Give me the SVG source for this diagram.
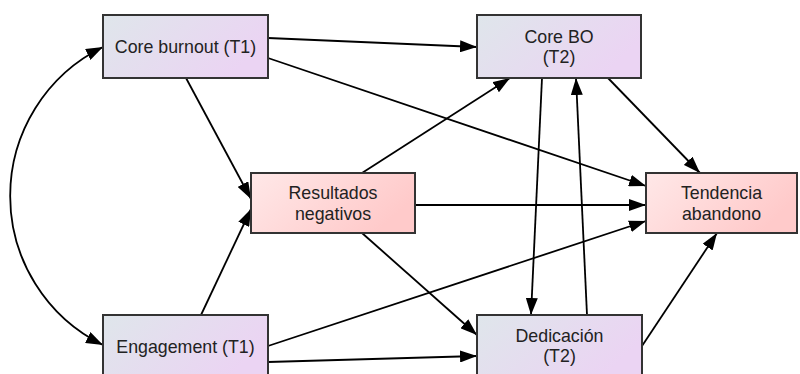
<svg xmlns="http://www.w3.org/2000/svg" width="800" height="374" viewBox="0 0 800 374">
<defs>
<linearGradient id="gLav" x1="0" y1="0" x2="1" y2="0.4">
<stop offset="0" stop-color="#dfe6eb"/>
<stop offset="1" stop-color="#ebd4f3"/>
</linearGradient>
<linearGradient id="gPink" x1="0" y1="0" x2="1" y2="0.4">
<stop offset="0" stop-color="#ffe8e8"/>
<stop offset="1" stop-color="#ffcaca"/>
</linearGradient>
<marker id="arr" markerUnits="userSpaceOnUse" markerWidth="17" markerHeight="12" viewBox="0 0 17 12" refX="17" refY="6" orient="auto-start-reverse">
<path d="M0,0 L17,6 L0,12 z" fill="#000"/>
</marker>
</defs>
<style>
.box{stroke:#333;stroke-width:2}
.lav{fill:url(#gLav)}
.pink{fill:url(#gPink)}
.lbl{font-family:"Liberation Sans",Arial,sans-serif;font-size:17.8px;fill:#222;text-anchor:middle}
.edge{fill:none;stroke:#000;stroke-width:1.8;marker-end:url(#arr)}
</style>
<rect width="800" height="374" fill="#fff"/>
<g id="connectors">
<path class="edge" d="M268,38 L477,47"/>
<path class="edge" d="M268,58 L646,186"/>
<path class="edge" d="M186,78 L251,199"/>
<path class="edge" d="M201,315 L251,209"/>
<path class="edge" d="M362,173 L510,78"/>
<path class="edge" d="M415,205 L646,205"/>
<path class="edge" d="M362,233 L477,335"/>
<path class="edge" d="M268,346 L646,221"/>
<path class="edge" d="M268,362 L477,356"/>
<path class="edge" d="M542,78 L531,315"/>
<path class="edge" d="M587,315 L576,78"/>
<path class="edge" d="M608,78 L700,173"/>
<path class="edge" d="M642,346 L717,233"/>
<path class="edge" style="marker-start:url(#arr)" d="M103,47 A166,166 0 0 0 103,345"/>
</g>
<g id="core-burnout-t1">
<rect class="box lav" x="103" y="15" width="165" height="63"/>
<text class="lbl" x="185.5" y="53">Core burnout (T1)</text>
</g>
<g id="core-bo-t2">
<rect class="box lav" x="477" y="15" width="164" height="63"/>
<text class="lbl" x="559" y="43">Core BO</text>
<text class="lbl" x="559" y="63">(T2)</text>
</g>
<g id="resultados-negativos">
<rect class="box pink" x="251" y="173" width="164" height="60"/>
<text class="lbl" x="333" y="199">Resultados</text>
<text class="lbl" x="333" y="219.5">negativos</text>
</g>
<g id="tendencia-abandono">
<rect class="box pink" x="646" y="173" width="151" height="60"/>
<text class="lbl" x="721.5" y="199">Tendencia</text>
<text class="lbl" x="721.5" y="219.5">abandono</text>
</g>
<g id="engagement-t1">
<rect class="box lav" x="103" y="315" width="165" height="63"/>
<text class="lbl" x="185.5" y="353">Engagement (T1)</text>
</g>
<g id="dedicacion-t2">
<rect class="box lav" x="477" y="315" width="165" height="63"/>
<text class="lbl" x="559.5" y="342">Dedicación</text>
<text class="lbl" x="559.5" y="362">(T2)</text>
</g>
</svg>
